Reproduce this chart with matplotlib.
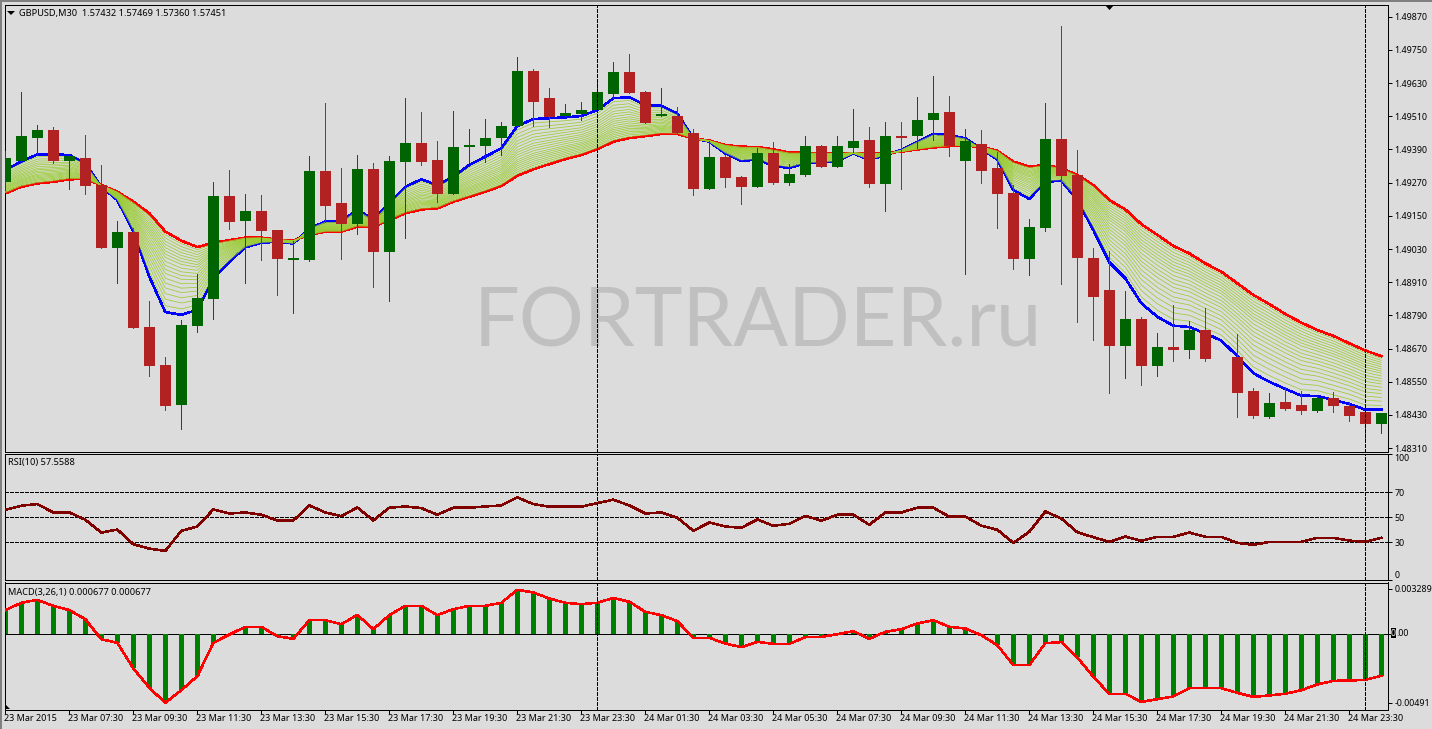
import numpy as np
import matplotlib
matplotlib.use("Agg")
import matplotlib.pyplot as plt
from matplotlib.patches import Polygon, Rectangle

nan = float("nan")
W, H = 1432, 729

# -- candles (bar 76 has no candle in the original) --
open_ = [1.49273, 1.49348, 1.49431, 1.49460, 1.49348, 1.49359, 1.49261, 1.49034, 1.49091, 1.48748,
         1.48611, 1.48466, 1.48752, 1.48849, 1.49222, 1.49131, 1.49167, 1.49099, 1.48992, 1.48990,
         1.49312, 1.49196, 1.49120, 1.49319, 1.49019, 1.49344, 1.49413, 1.49352, 1.49229, 1.49399,
         1.49402, 1.49431, 1.49475, 1.49673, 1.49576, 1.49511, 1.49518, 1.49532, 1.49590, 1.49670,
         1.49597, 1.49511, 1.49511, 1.49449, 1.49247, 1.49363, 1.49290, 1.49254, 1.49377, 1.49269,
         1.49298, 1.49402, 1.49326, 1.49395, 1.49424, 1.49265, 1.49438, 1.49438, 1.49496, 1.49525,
         1.49348, 1.49410, 1.49323, 1.49232, 1.48994, 1.49106, 1.49428, 1.49298, 1.48998, 1.48882,
         1.48679, 1.48777, 1.48607, 1.48676, 1.48665, 1.48737, nan, 1.48640, 1.48517, 1.48423,
         1.48477, 1.48466, 1.48445, 1.48492, 1.48463, 1.48441, 1.48398]
high = [1.49384, 1.49596, 1.49478, 1.49471, 1.49370, 1.49442, 1.49334, 1.49131, 1.49105, 1.48842,
        1.48640, 1.48773, 1.48940, 1.49272, 1.49316, 1.49229, 1.49225, 1.49099, 1.49059, 1.49366,
        1.49558, 1.49323, 1.49370, 1.49341, 1.49366, 1.49576, 1.49525, 1.49420, 1.49529, 1.49464,
        1.49500, 1.49489, 1.49724, 1.49681, 1.49612, 1.49554, 1.49561, 1.49641, 1.49706, 1.49735,
        1.49601, 1.49612, 1.49543, 1.49464, 1.49420, 1.49370, 1.49294, 1.49395, 1.49417, 1.49337,
        1.49438, 1.49406, 1.49438, 1.49536, 1.49471, 1.49489, 1.49489, 1.49579, 1.49655, 1.49583,
        1.49464, 1.49460, 1.49381, 1.49261, 1.49138, 1.49558, 1.49836, 1.49388, 1.49034, 1.49023,
        1.48878, 1.48784, 1.48726, 1.48828, 1.48770, 1.48818, nan, 1.48723, 1.48528, 1.48510,
        1.48531, 1.48517, 1.48499, 1.48513, 1.48477, 1.48441, 1.48437]
low = [1.49243, 1.49348, 1.49370, 1.49341, 1.49247, 1.49229, 1.49034, 1.48907, 1.48744, 1.48571,
       1.48448, 1.48379, 1.48730, 1.48777, 1.49102, 1.48907, 1.48990, 1.48864, 1.48799, 1.48987,
       1.49128, 1.48994, 1.49084, 1.48893, 1.48842, 1.49070, 1.49334, 1.49200, 1.49229, 1.49344,
       1.49344, 1.49370, 1.49475, 1.49475, 1.49471, 1.49511, 1.49496, 1.49532, 1.49576, 1.49594,
       1.49485, 1.49511, 1.49449, 1.49225, 1.49247, 1.49254, 1.49193, 1.49254, 1.49265, 1.49261,
       1.49294, 1.49326, 1.49326, 1.49381, 1.49254, 1.49167, 1.49247, 1.49395, 1.49424, 1.49366,
       1.48940, 1.49269, 1.49106, 1.48958, 1.48936, 1.49095, 1.48904, 1.48766, 1.48701, 1.48510,
       1.48564, 1.48538, 1.48571, 1.48625, 1.48636, 1.48625, nan, 1.48423, 1.48419, 1.48419,
       1.48448, 1.48434, 1.48441, 1.48441, 1.48408, 1.48340, 1.48365]
close = [1.49359, 1.49438, 1.49460, 1.49348, 1.49366, 1.49258, 1.49034, 1.49091, 1.48744, 1.48607,
         1.48463, 1.48755, 1.48853, 1.49222, 1.49128, 1.49167, 1.49095, 1.48994, 1.48998, 1.49312,
         1.49185, 1.49120, 1.49319, 1.49019, 1.49348, 1.49413, 1.49344, 1.49229, 1.49399, 1.49406,
         1.49431, 1.49475, 1.49673, 1.49561, 1.49507, 1.49522, 1.49532, 1.49597, 1.49670, 1.49594,
         1.49485, 1.49518, 1.49449, 1.49247, 1.49363, 1.49287, 1.49254, 1.49377, 1.49269, 1.49301,
         1.49402, 1.49326, 1.49402, 1.49420, 1.49265, 1.49438, 1.49431, 1.49496, 1.49522, 1.49402,
         1.49420, 1.49312, 1.49229, 1.48994, 1.49110, 1.49428, 1.49294, 1.48998, 1.48857, 1.48679,
         1.48777, 1.48607, 1.48676, 1.48665, 1.48737, 1.48632, nan, 1.48510, 1.48426, 1.48473,
         1.48452, 1.48445, 1.48492, 1.48463, 1.48426, 1.48398, 1.48437]

# -- fastest and slowest average of the ribbon --
ma_fast = [1.49316, 1.49346, 1.49372, 1.49372, 1.49370, 1.49340, 1.49255, 1.49207, 1.49093, 1.48930,
           1.48802, 1.48792, 1.48810, 1.48924, 1.48984, 1.49036, 1.49053, 1.49056, 1.49050, 1.49105,
           1.49129, 1.49129, 1.49173, 1.49135, 1.49195, 1.49255, 1.49282, 1.49261, 1.49291, 1.49334,
           1.49364, 1.49394, 1.49475, 1.49500, 1.49503, 1.49506, 1.49511, 1.49532, 1.49575, 1.49579,
           1.49550, 1.49548, 1.49520, 1.49430, 1.49418, 1.49376, 1.49348, 1.49354, 1.49331, 1.49323,
           1.49340, 1.49342, 1.49347, 1.49376, 1.49352, 1.49370, 1.49388, 1.49418, 1.49446, 1.49442,
           1.49430, 1.49391, 1.49354, 1.49243, 1.49211, 1.49273, 1.49277, 1.49207, 1.49099, 1.48982,
           1.48924, 1.48834, 1.48785, 1.48753, 1.48748, 1.48725, 1.48699, 1.48643, 1.48581, 1.48550,
           1.48524, 1.48500, 1.48499, 1.48484, 1.48470, 1.48449, 1.48449]
ma_slow = [1.49231, 1.49255, 1.49267, 1.49273, 1.49282, 1.49283, 1.49261, 1.49237, 1.49201, 1.49159,
           1.49093, 1.49060, 1.49037, 1.49053, 1.49062, 1.49071, 1.49071, 1.49064, 1.49061, 1.49081,
           1.49093, 1.49093, 1.49111, 1.49111, 1.49135, 1.49159, 1.49173, 1.49177, 1.49201, 1.49219,
           1.49237, 1.49258, 1.49295, 1.49318, 1.49337, 1.49355, 1.49370, 1.49391, 1.49418, 1.49431,
           1.49438, 1.49446, 1.49446, 1.49430, 1.49422, 1.49406, 1.49400, 1.49399, 1.49390, 1.49379,
           1.49378, 1.49378, 1.49376, 1.49378, 1.49376, 1.49376, 1.49382, 1.49390, 1.49397, 1.49402,
           1.49403, 1.49400, 1.49385, 1.49346, 1.49328, 1.49334, 1.49322, 1.49298, 1.49261, 1.49207,
           1.49173, 1.49120, 1.49081, 1.49041, 1.49014, 1.48978, 1.48948, 1.48906, 1.48864, 1.48831,
           1.48795, 1.48764, 1.48737, 1.48716, 1.48689, 1.48663, 1.48643]
# where the thin lines sit between fast (0) and slow (1), estimated from the wide part of the ribbon;
# the thin lines themselves are not read bar by bar
ribbon_levels = [0.08, 0.16, 0.23, 0.30, 0.36, 0.42, 0.48, 0.53, 0.58,
                 0.63, 0.68, 0.72, 0.76, 0.80, 0.84, 0.88, 0.92, 0.96]

rsi = [55.9, 59.1, 60.4, 53.7, 53.7, 47.9, 37.7, 40.1, 28.4, 24.9,
       23.1, 39.1, 42.5, 56.1, 52.9, 53.7, 51.9, 47.3, 47.3, 59.3,
       53.7, 50.8, 57.7, 47.3, 57.5, 58.5, 57.2, 51.9, 57.5, 57.5,
       58.5, 59.3, 65.7, 60.4, 58.3, 58.3, 58.3, 61.2, 63.9, 59.3,
       52.9, 53.7, 49.5, 39.1, 45.7, 42.5, 41.5, 48.1, 43.1, 44.7,
       51.1, 47.1, 51.9, 51.9, 43.9, 53.7, 53.7, 57.5, 57.5, 50.3,
       50.5, 43.1, 39.9, 29.5, 38.3, 54.5, 48.9, 38.0, 34.0, 30.3,
       34.5, 31.1, 34.3, 34.3, 37.7, 34.3, 34.3, 29.5, 27.9, 30.3,
       30.3, 30.3, 33.5, 33.5, 31.3, 30.3, 33.5]

# MACD in units of 1e-5, main and signal are the same with period 1
macd = [175, 228, 249, 206, 175, 110, -34, -60, -244, -383,
        -491, -400, -299, -60, 0, 55, 55, -12, -31, 103,
        103, 74, 141, 38, 139, 206, 206, 139, 182, 206,
        206, 228, 321, 302, 259, 228, 218, 228, 263, 235,
        163, 139, 96, -24, -24, -65, -91, -53, -67, -67,
        -19, -17, 2, 24, -31, 19, 38, 79, 103, 55,
        43, -5, -77, -220, -220, -62, -55, -165, -304, -426,
        -426, -484, -465, -445, -386, -386, -386, -419, -448, -438,
        -426, -400, -359, -333, -331, -326, -297]

time_labels = ["23 Mar 2015", "23 Mar 07:30", "23 Mar 09:30", "23 Mar 11:30", "23 Mar 13:30", "23 Mar 15:30",
               "23 Mar 17:30", "23 Mar 19:30", "23 Mar 21:30", "23 Mar 23:30", "24 Mar 01:30", "24 Mar 03:30",
               "24 Mar 05:30", "24 Mar 07:30", "24 Mar 09:30", "24 Mar 11:30", "24 Mar 13:30", "24 Mar 15:30",
               "24 Mar 17:30", "24 Mar 19:30", "24 Mar 21:30", "24 Mar 23:30"]
price_ticks = [1.49870, 1.49750, 1.49630, 1.49510, 1.49390, 1.49270, 1.49150,
               1.49030, 1.48910, 1.48790, 1.48670, 1.48550, 1.48430, 1.48310]
rsi_ticks = [100, 70, 50, 30, 0]
day_breaks = [37, 85]

plt.rcParams["font.family"] = ["Noto Sans", "DejaVu Sans"]
plt.rcParams["font.size"] = 6.4
BG = "#dcdcdc"
UP = "#006400"
DOWN = "#b22222"
THICK = 1.1
THIN = 0.5

fig = plt.figure(figsize=(W / 100, H / 100), dpi=100, facecolor=BG)


def panel(top, bottom):
    a = fig.add_axes([4.5 / W, 1 - bottom / H, (1387.5 - 4.5) / W, (bottom - top) / H], facecolor=BG)
    for s in a.spines.values():
        s.set_linewidth(0.72)
        s.set_color("black")
    a.yaxis.tick_right()
    a.set_xlim((4.5 - 5.33) / 16, (1387.5 - 5.33) / 16)
    a.tick_params(axis="both", length=3, width=0.72, pad=2, labelsize=6.4, color="black")
    a.set_xticks([])
    return a


ax = panel(4.5, 451.5)
ax_rsi = panel(453.5, 580)
ax_macd = panel(582.5, 709.5)

x = np.arange(len(close))
o = np.array(open_)
h = np.array(high)
l = np.array(low)
c = np.array(close)
fast = np.array(ma_fast)
slow = np.array(ma_slow)

# -- price panel --
ax.set_ylim(1.48298, 1.49914)
ax.text((474 - 4.5) / 1383, 0.2338, "FORTRADER.ru", transform=ax.transAxes, color="#c0c0c0", fontsize=58.4,
        family="Lato", va="baseline", ha="left", zorder=0)
ax.plot(x, fast, color="#0000ff", lw=THICK, antialiased=False, zorder=2)
ax.plot(x, slow, color="#ff0000", lw=THICK, antialiased=False, zorder=2)
for lev in ribbon_levels:
    ax.plot(x, fast + lev * (slow - fast), color="#9acd32", lw=0.55, antialiased=True, zorder=3)
colors = [UP if cl >= op else DOWN for op, cl in zip(o, c)]
ax.vlines(x, l, h, colors=colors, lw=THIN, antialiased=False, zorder=4)
ax.bar(x, np.abs(c - o), bottom=np.minimum(o, c), width=11 / 16, color=colors, antialiased=False, zorder=5)
ax.set_yticks(price_ticks)
ax.set_yticklabels([f"{t:.5f}" for t in price_ticks])
ax.text(14.5 / 1383, 1 - 9 / 447, "GBPUSD,M30  1.57432 1.57469 1.57360 1.57451", transform=ax.transAxes,
        va="center", ha="left", fontsize=6.65, zorder=6)

# -- RSI panel --
ax_rsi.set_ylim(0 - 0.1, 100.7)
for lvl in [70, 50, 30]:
    ax_rsi.axhline(lvl, color="black", lw=0.72, dashes=(3, 2), antialiased=False, zorder=1)
ax_rsi.plot(x, rsi, color="#800000", lw=THICK, antialiased=False, zorder=3)
ax_rsi.set_yticks(rsi_ticks)
ax_rsi.set_yticklabels([str(t) for t in rsi_ticks])
# the end labels stay inside the panel in the original
rsi_tick_labels = ax_rsi.get_yticklabels()
rsi_tick_labels[0].set_va("top")
rsi_tick_labels[-1].set_va("bottom")
ax_rsi.text(4 / 1383, 0.93, "RSI(10) 57.5588", transform=ax_rsi.transAxes, va="center", ha="left", fontsize=6.65)

# -- MACD panel --
m = np.array(macd) * 1e-5
ax_macd.set_ylim(-0.00539, 0.003737)
ax_macd.axhline(0, color="black", lw=0.72, antialiased=False, zorder=1)
ax_macd.bar(x, m, width=5 / 16, color="#008000", antialiased=False, zorder=2)
ax_macd.plot(x, m, color="#ff0000", lw=THICK, antialiased=False, zorder=3)
ax_macd.set_yticks([0.003289, 0, -0.00491])
ax_macd.set_yticklabels(["0.003289", "", "-0.00491"])
ax_macd.text(4 / 1383, 0.925, "MACD(3,26,1) 0.000677 0.000677", transform=ax_macd.transAxes, va="center", ha="left",
             fontsize=6.65)
# current value marker on the scale
fig.add_artist(Rectangle((1390.5 / W, 1 - 638 / H), 5 / W, 10 / H, transform=fig.transFigure, color="black", lw=0))
fig.text(1393 / W, 1 - 633 / H, "0", color="white", ha="center", va="center", fontsize=6.4)
fig.text(1396 / W, 1 - 633 / H, ".00", color="black", ha="left", va="center", fontsize=6.4)

# time axis sits under the last panel
ax_macd.set_xticks(x[::4])
ax_macd.set_xticklabels([])
for i, lab in zip(x[::4], time_labels):
    ax_macd.annotate(lab, (i, 0), xycoords=("data", "axes fraction"), xytext=(-1.0, -6.2),
                     textcoords="offset points", ha="left", va="center", fontsize=6.5, annotation_clip=False)

# vertical separators go through all three panels
for a in [ax, ax_rsi, ax_macd]:
    for b in day_breaks:
        a.axvline(b, color="black", lw=0.72, dashes=(3, 2), antialiased=False, zorder=6)

# window edge and the small chart markers
fig.add_artist(Rectangle((0, 0), 1.5 / W, 1, transform=fig.transFigure, color="#808080", lw=0))
fig.add_artist(Rectangle((0, 1 - 1.5 / H), 1, 1.5 / H, transform=fig.transFigure, color="#808080", lw=0))
fig.add_artist(Polygon([[7 / W, 1 - 11 / H], [15 / W, 1 - 11 / H], [11 / W, 1 - 15 / H]],
                       transform=fig.transFigure, color="black", lw=0))
fig.add_artist(Polygon([[1105 / W, 1 - 5 / H], [1114 / W, 1 - 5 / H], [1109.5 / W, 1 - 10 / H]],
                       transform=fig.transFigure, color="black", lw=0))
fig.add_artist(Polygon([[5 / W, 1 - 704 / H], [5 / W, 1 - 709 / H], [10 / W, 1 - 709 / H]],
                       transform=fig.transFigure, color="black", lw=0))

fig.savefig("out.png", dpi=100, facecolor=BG)
